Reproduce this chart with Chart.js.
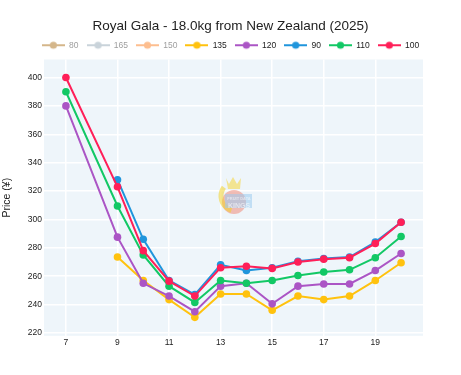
<!DOCTYPE html>
<html>
<head>
<meta charset="utf-8">
<script src="https://cdn.jsdelivr.net/npm/chart.js@4"></script>
<style>
	html, body { margin: 0; padding: 0; background: #fff; }
	#wrap { width: 461px; height: 375px; }
</style>
</head>
<body>
<div id="wrap"><canvas id="chart" width="461" height="375"></canvas></div>
<script>
// Week numbers on x axis
var weeks = [7, 9, 10, 11, 12, 13, 14, 15, 16, 17, 18, 19, 20];
var xTicks = [7, 9, 11, 13, 15, 17, 19];
var yTicks = [220, 240, 260, 280, 300, 320, 340, 360, 380, 400];

var sizes = ["80", "165", "150", "135", "120", "90", "110", "100"];
var hiddenSizes = ["80", "165", "150"];

var price80 = [];
var price165 = [];
var price150 = [];
var price135 = [null, 273.5, 257, 243.5, 231, 247.5, 247.5, 236, 246, 243.5, 246, 257, 269.5];
var price120 = [380, 287.5, 255, 246, 235, 253, 255, 240.5, 253, 254.5, 254.5, 264, 276];
var price90 = [null, 328, 286, 257, 247, 268, 264, 266, 270.5, 272.5, 273.5, 284, 298];
var price110 = [390, 309.5, 275, 253, 241.5, 257, 255, 257, 260.5, 263, 264.5, 273, 288];
var price100 = [400, 323, 278, 256.5, 246, 266, 267, 265.5, 270, 272, 273, 283, 298];

var colors = ["#D4B68A", "#C9D3DA", "#FDBE8F", "#FFC20E", "#AB55C5", "#1F95DC", "#12C865", "#FF1F58"];
var prices = [price80, price165, price150, price135, price120, price90, price110, price100];

var FONT = "'Liberation Sans', Arial, sans-serif";

function toPoints(arr) {
	var pts = [];
	for (var i = 0; i < arr.length; i++) {
		if (arr[i] !== null && arr[i] !== undefined) pts.push({ x: weeks[i], y: arr[i] });
	}
	return pts;
}

// little line + dot swatch for the legend
function legendSwatch(color) {
	var c = document.createElement("canvas");
	c.width = 23;
	c.height = 10;
	var g = c.getContext("2d");
	g.strokeStyle = color;
	g.lineWidth = 2;
	g.beginPath();
	g.moveTo(0, 5);
	g.lineTo(23, 5);
	g.stroke();
	g.fillStyle = color;
	g.beginPath();
	g.arc(11.5, 5, 3.6, 0, Math.PI * 2);
	g.fill();
	return c;
}

var plotBg = {
	id: "plotBg",
	beforeDraw: function (chart) {
		var a = chart.chartArea;
		var ctx = chart.ctx;
		ctx.save();
		ctx.fillStyle = "#EEF5FA";
		ctx.fillRect(a.left, a.top, a.right - a.left, a.bottom - a.top);
		ctx.restore();
	},
	afterDatasetsDraw: function (chart) {
		// rough watermark logo
		var ctx = chart.ctx;
		ctx.save();
		ctx.globalAlpha = 0.55;
		ctx.fillStyle = "#F08A7A";
		ctx.beginPath();
		ctx.arc(234, 202, 12, 0, Math.PI * 2);
		ctx.fill();
		ctx.fillStyle = "#F5D63A";
		ctx.beginPath();
		ctx.moveTo(226, 178);
		ctx.lineTo(229, 184);
		ctx.lineTo(233, 177);
		ctx.lineTo(237, 184);
		ctx.lineTo(241, 178);
		ctx.lineTo(240, 189);
		ctx.lineTo(228, 189);
		ctx.closePath();
		ctx.fill();
		ctx.strokeStyle = "#F2D12A";
		ctx.lineWidth = 5;
		ctx.beginPath();
		ctx.arc(236, 196, 15, Math.PI * 0.6, Math.PI * 1.2);
		ctx.stroke();
		ctx.fillStyle = "#9CCBEF";
		ctx.fillRect(225, 194, 27, 14);
		ctx.fillStyle = "#ffffff";
		ctx.font = "bold 4px " + FONT;
		ctx.textAlign = "center";
		ctx.fillText("FRUIT DATA", 239, 199);
		ctx.font = "bold 7px " + FONT;
		ctx.fillText("KINGS", 239, 206);
		ctx.restore();
	}
};

var datasets = sizes.map(function (s, i) {
	return {
		label: s,
		data: toPoints(prices[i]),
		borderColor: colors[i],
		backgroundColor: colors[i],
		pointBackgroundColor: colors[i],
		pointBorderColor: colors[i],
		borderWidth: 2,
		pointRadius: 3.8,
		pointBorderWidth: 0,
		tension: 0,
		fill: false,
		hidden: hiddenSizes.indexOf(s) >= 0,
		order: sizes.length - i
	};
});

new Chart(document.getElementById("chart"), {
	type: "line",
	data: { datasets: datasets },
	plugins: [plotBg],
	options: {
		responsive: false,
		animation: false,
		devicePixelRatio: 1,
		layout: { padding: { left: 0, right: 0, top: 0, bottom: 25 } },
		plugins: {
			title: {
				display: true,
				text: "Royal Gala - 18.0kg from New Zealand (2025)",
				color: "#222",
				font: { family: FONT, size: 13.5, weight: "normal", lineHeight: 1 },
				padding: { top: 19.5, bottom: 0 }
			},
			legend: {
				display: true,
				onClick: null,
				labels: {
					usePointStyle: true,
					pointStyleWidth: 23,
					boxHeight: 8,
					padding: 8,
					font: { family: FONT, size: 8.5 },
					generateLabels: function (chart) {
						return chart.data.datasets.map(function (ds, i) {
							var off = hiddenSizes.indexOf(ds.label) >= 0;
							return {
								text: ds.label,
								datasetIndex: i,
								hidden: false,
								fontColor: off ? "#9E9E9E" : "#222",
								pointStyle: legendSwatch(ds.borderColor),
								fillStyle: ds.borderColor,
								strokeStyle: ds.borderColor,
								lineWidth: 0
							};
						});
					}
				}
			},
			tooltip: { enabled: false }
		},
		scales: {
			x: {
				type: "linear",
				min: 6.15,
				max: 20.85,
				afterBuildTicks: function (axis) {
					axis.ticks = xTicks.map(function (v) { return { value: v }; });
				},
				grid: { color: "#ffffff", lineWidth: 1.5, drawTicks: false },
				border: { display: false },
				ticks: {
					padding: 2,
					color: "#222",
					font: { family: FONT, size: 8.5 },
					maxRotation: 0
				}
			},
			y: {
				min: 218,
				max: 412.7,
				afterBuildTicks: function (axis) {
					axis.ticks = yTicks.map(function (v) { return { value: v }; });
				},
				afterFit: function (axis) {
					axis.width = 44;
				},
				grid: { color: "#ffffff", lineWidth: 1.5, drawTicks: false },
				border: { display: false },
				title: {
					display: true,
					text: "Price (¥)",
					color: "#222",
					font: { family: FONT, size: 10.5 },
					padding: { top: 1, bottom: 0 }
				},
				ticks: {
					padding: 2,
					color: "#222",
					font: { family: FONT, size: 8.5 }
				}
			},
			// empty right axis, only keeps the right margin
			yRight: {
				position: "right",
				min: 218,
				max: 412.7,
				afterFit: function (axis) {
					axis.width = 38;
				},
				grid: { display: false },
				border: { display: false },
				ticks: { display: false }
			}
		}
	}
});
</script>
</body>
</html>
